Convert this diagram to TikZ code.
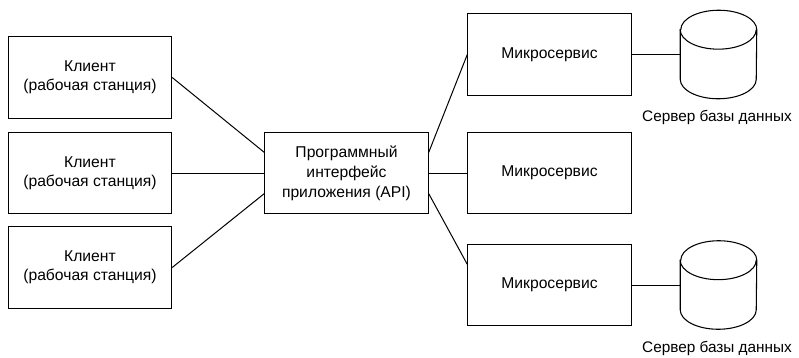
\documentclass[tikz,border=0pt]{standalone}
\usepackage{fontspec}
\setmainfont{Liberation Sans}
\usetikzlibrary{positioning,calc}
\tikzset{box/.style={draw,rectangle,line width=0.8pt,minimum width=122.5pt,minimum height=61pt,inner sep=0pt,align=center,font=\fontsize{11.75}{14.5}\selectfont}}
\tikzset{dbase/.style={rectangle,minimum width=57pt,minimum height=66pt,inner sep=0pt}}
\tikzset{link/.style={line width=0.75pt}}
\tikzset{caption/.style={font=\fontsize{11.5}{14}\selectfont,inner sep=0pt}}
\newcommand{\dbdrum}[1]{%
	\draw[line width=0.8pt] ([yshift=-14.6pt]#1.north west) -- ([yshift=14.6pt]#1.south west)
		arc[start angle=180,end angle=360,x radius=28.5pt,y radius=14.6pt]
		-- ([yshift=-14.6pt]#1.north east)
		arc[start angle=0,end angle=180,x radius=28.5pt,y radius=14.6pt] -- cycle;
	\draw[line width=0.8pt] ([yshift=-14.6pt]#1.north west)
		arc[start angle=180,end angle=360,x radius=28.5pt,y radius=14.6pt];}

\begin{document}
\begin{tikzpicture}[x=0.75pt,y=-0.75pt]
	\useasboundingbox (0,0) rectangle (799,357);

	%% Clients
	\node[box] (client1) at (90,77.5) {Клиент\\(рабочая станция)};
	\node[box] (client2) at (90,173) {Клиент\\(рабочая станция)};
	\node[box] (client3) at (90,267.5) {Клиент\\(рабочая станция)};
	%%

	%% API
	\node[box,font=\fontsize{11.75}{15}\selectfont] (api) at (346.5,173) {Программный\\интерфейс\\приложения (API)};

	%% Microservices and databases
	\node[box] (ms1) at (549.5,54.5) {Микросервис};
	\node[box] (ms2) at (549.5,173) {Микросервис};
	\node[box] (ms3) at (549.5,285) {Микросервис};
	\node[dbase] (db1) at (718.5,54.5) {};
	\node[dbase] (db2) at (718.5,285) {};
	\dbdrum{db1}
	\dbdrum{db2}
	\node[caption] (db1label) at (717,117) {Сервер базы данных};
	\node[caption] (db2label) at (717,348) {Сервер базы данных};
	%%

	\draw[link] (client1.east) -- ($(api.north west)!0.25!(api.south west)$);
	\draw[link] (client2.east) -- (api.west);
	\draw[link] (client3.east) -- ($(api.north west)!0.75!(api.south west)$);
	\draw[link] ($(api.north east)!0.25!(api.south east)$) -- (ms1.west);
	\draw[link] (api.east) -- (ms2.west);
	\draw[link] ($(api.north east)!0.75!(api.south east)$) -- ($(ms3.north west)!0.25!(ms3.south west)$);
	\draw[link] (ms1.east) -- (db1.west);
	\draw[link] (ms3.east) -- (db2.west);

\end{tikzpicture}
\end{document}
